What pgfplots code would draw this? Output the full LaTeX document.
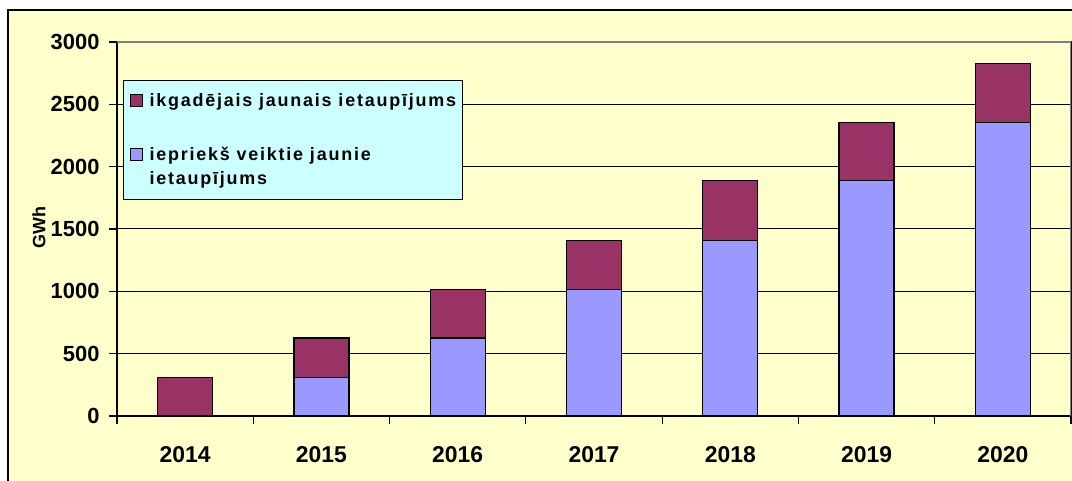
\documentclass[border=0pt]{standalone}
\usepackage{fontspec}
\setmainfont{Liberation Sans}
\newfontfamily\legfont[LetterSpace=10]{Liberation Sans}
\usepackage{pgfplots}
\pgfplotsset{compat=1.18}
\definecolor{bg}{HTML}{FFFFCC}
\definecolor{legbg}{HTML}{CCFFFF}
\definecolor{red1}{HTML}{993366}
\definecolor{blue1}{HTML}{9999FF}
\definecolor{gr}{HTML}{808080}
\pgfplotsset{sqleg/.style={legend image code/.code={\draw[##1, line width=1bp] (0bp,-6bp) rectangle (12bp,6.5bp);}}}
\begin{document}
\begin{tikzpicture}[x=1bp,y=1bp]
\useasboundingbox (0,0) rectangle (1072,481);
\clip (0,0) rectangle (1072,481);
\fill[white] (0,0) rectangle (1072,481);
\draw[line width=2bp, fill=bg] (8,-10) rectangle (1090,471);
\begin{axis}[
  at={(117bp,65bp)}, anchor=south west, scale only axis,
  width=954bp, height=374bp,
  xmin=-0.5, xmax=6.5, ymin=0, ymax=3000,
  ybar stacked, bar width=55bp,
  axis line style={black, line width=1.2bp},
  xtick={0,...,6}, xticklabels={2014,2015,2016,2017,2018,2019,2020},
  major x tick style={draw=none},
  minor xtick={-0.5,0.5,...,6.5},
  minor x tick style={black, line width=1.2bp},
  minor tick length=8bp,
  ytick={0,500,...,3000},
  major y tick style={black, line width=1.2bp},
  major tick length=8bp,
  tick align=outside,
  xtick pos=bottom, ytick pos=left,
  ymajorgrids, major grid style={black, line width=1bp},
  /pgf/number format/assume math mode=true,
  /pgf/number format/1000 sep={},
  xticklabel style={font=\bfseries\fontsize{23}{27}\selectfont, yshift=-19bp},
  yticklabel style={font=\bfseries\fontsize{22}{26}\selectfont, xshift=-6bp},
  ylabel={GWh},
  ylabel style={font=\bfseries\fontsize{18}{21}\selectfont, at={(axis description cs:-0.0818,0.505)}, anchor=center},
  reverse legend,
  legend cell align=left,
  legend style={at={(rel axis cs:0.0063,0.898)}, anchor=north west,
    fill=legbg, draw=black, line width=1bp,
    font=\legfont\bfseries\fontsize{18}{25}\selectfont,
    nodes={inner sep=0pt},
    /tikz/every odd column/.append style={column sep=7bp},
    inner xsep=6bp, inner ysep=13bp, row sep=10bp},
]
\addlegendimage{empty legend}
\addlegendentry{ietaupījums}
\addplot[fill=blue1, draw=black, line width=1.2bp, sqleg]
  coordinates {(0,0) (1,310) (2,625) (3,1015) (4,1410) (5,1890) (6,2357)};
\addlegendentry{iepriekš veiktie jaunie}
\addlegendimage{empty legend}
\addlegendentry{\strut}
\addplot[fill=red1, draw=black, line width=1.2bp, sqleg]
  coordinates {(0,310) (1,315) (2,390) (3,395) (4,480) (5,467) (6,471)};
\addlegendentry{ikgadējais jaunais ietaupījums}
\draw[gr, line width=1.5bp] (rel axis cs:0,1) -- (rel axis cs:1,1) -- (rel axis cs:1,0);
\end{axis}
\end{tikzpicture}
\end{document}
